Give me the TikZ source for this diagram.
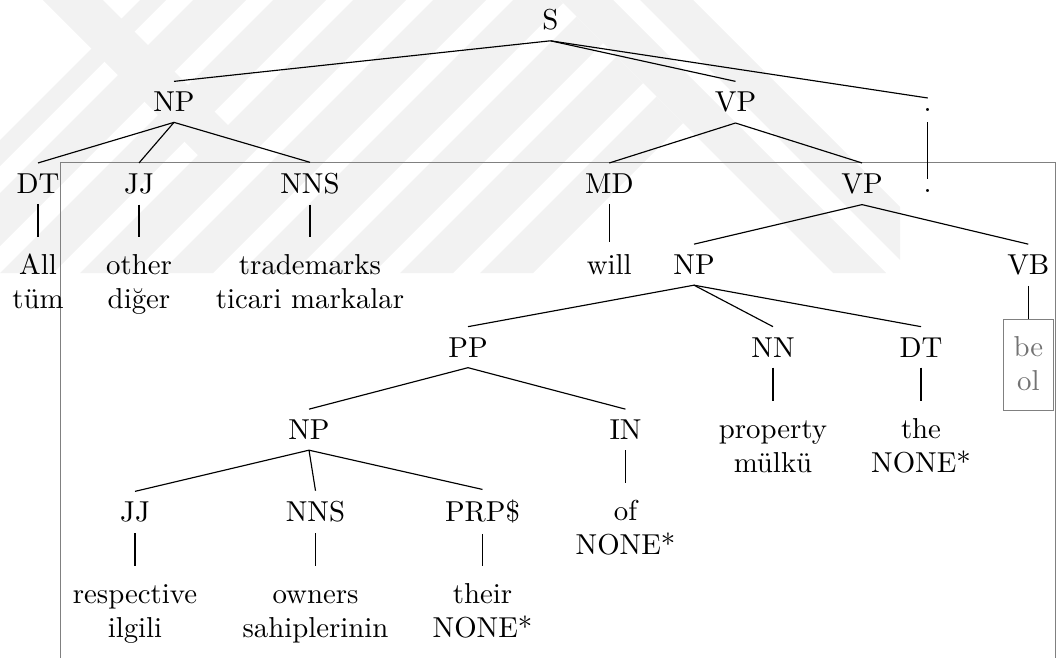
\documentclass[tikz,border=0pt]{standalone}
\usepackage{fontspec}
\newcommand{\twoline}[2]{\begin{tabular}[t]{@{}c@{}}#1\\#2\end{tabular}}
\renewcommand{\arraystretch}{0.98}
\begin{document}
\begin{tikzpicture}[x=0.347pt,y=-0.347pt,
  cat/.style={inner sep=3.5pt, anchor=base},
  word/.style={inner sep=3.5pt, anchor=base, text height=9.3pt},
  edge/.style={line width=0.4pt, black},
  framebox/.style={draw=black!50, line width=0.35pt},
  wm/.style={fill=black!5, draw=none}]
\useasboundingbox (0,0) rectangle (1061,657);
\clip (0,0) rectangle (1061,657);

% faint striped emblem in the background
\begin{scope}
  \clip (0,140) -- (140,0) -- (560,0) -- (833,273) -- (0,273) -- cycle;
  \foreach \b in {-160,-80,0,80,160,240,320,400,480}
    \fill[wm] (\b,273) -- (\b+53,273) -- (\b+326,0) -- (\b+273,0) -- cycle;
\end{scope}
\fill[wm] (43,0) -- (103,0) -- (250,147) -- (220,177) -- cycle;
\begin{scope}
  \clip (560,0) -- (900,0) -- (900,273) -- (833,273) -- cycle;
  \foreach \t in {480,560,640}
    \fill[wm] (\t,0) -- (\t+53,0) -- (\t+326,273) -- (\t+273,273) -- cycle;
\end{scope}

% frame around the lower part of the tree
\draw[framebox] (60.3,162.5) rectangle (1055.7,700);

% level 0 and 1
\node[cat] (S)   at (550.5,29.5) {S};
\node[cat] (np1) at (174,111.7)  {NP};
\node[cat] (vp1) at (735.5,111.7){VP};
\node[cat] (pt1) at (927.7,111.7){.};
% level 2
\node[cat] (dt1)  at (38,193.3)    {DT};
\node[cat] (jj1)  at (139,193.3)   {JJ};
\node[cat] (nns1) at (310,193.3)   {NNS};
\node[cat] (md)   at (609.3,193.3) {MD};
\node[cat] (vp2)  at (862,193.3)   {VP};
\node[cat] (pt2)  at (927.7,192.5) {.};
% level 3
\node[word] (wall)   at (38,274.5)  {\twoline{All}{tüm}};
\node[word] (wother) at (139,274.5) {\twoline{other}{diğer}};
\node[word] (wtrade) at (310,274.5) {\twoline{trademarks}{ticari markalar}};
\node[cat, text height=7.5pt] (wwill) at (609.3,274.5) {will};
\node[cat] (np2) at (694,274.5)    {NP};
\node[cat] (vb)  at (1028.3,274.5) {VB};
% level 4
\node[cat] (pp)  at (468,357)   {PP};
\node[cat] (nn)  at (773,357)   {NN};
\node[cat] (dt2) at (921,357)   {DT};
\node[word, draw=black!50, text=black!55, line width=0.35pt] (wbe) at (1028.3,356.7) {\twoline{be}{ol}};
% level 5
\node[cat] (np3) at (309,439.5)   {NP};
\node[cat] (in)  at (625.5,439.5) {IN};
\node[word] (wprop) at (773,438.5) {\twoline{property}{mülkü}};
\node[word] (wthe)  at (921,438.5) {\twoline{the}{NONE*}};
% level 6
\node[cat] (jj2)  at (135,521.7)   {JJ};
\node[cat] (nns2) at (315.5,521.7) {NNS};
\node[cat] (prp)  at (482.5,521.7) {PRP\$};
\node[word] (wof) at (625.5,520.5) {\twoline{of}{NONE*}};
% level 7
\node[word] (wresp)  at (135,603.3)   {\twoline{respective}{ilgili}};
\node[word] (wown)   at (315.5,603.3) {\twoline{owners}{sahiplerinin}};
\node[word] (wtheir) at (482.5,603.3) {\twoline{their}{NONE*}};

% branches
\draw[edge] (S.south) -- (np1.north);
\draw[edge] (S.south) -- (vp1.north);
\draw[edge] (S.south) -- (pt1.north);
\draw[edge] (np1.south) -- (dt1.north);
\draw[edge] (np1.south) -- (jj1.north);
\draw[edge] (np1.south) -- (nns1.north);
\draw[edge] (vp1.south) -- (md.north);
\draw[edge] (vp1.south) -- (vp2.north);
\draw[edge] (pt1.south) -- (pt2.north);
\draw[edge] (dt1.south) -- (wall.north);
\draw[edge] (jj1.south) -- (wother.north);
\draw[edge] (nns1.south) -- (wtrade.north);
\draw[edge] (md.south) -- (wwill.north);
\draw[edge] (vp2.south) -- (np2.north);
\draw[edge] (vp2.south) -- (vb.north);
\draw[edge] (np2.south) -- (pp.north);
\draw[edge] (np2.south) -- (nn.north);
\draw[edge] (np2.south) -- (dt2.north);
\draw[edge] (vb.south) -- (wbe.north);
\draw[edge] (pp.south) -- (np3.north);
\draw[edge] (pp.south) -- (in.north);
\draw[edge] (nn.south) -- (wprop.north);
\draw[edge] (dt2.south) -- (wthe.north);
\draw[edge] (np3.south) -- (jj2.north);
\draw[edge] (np3.south) -- (nns2.north);
\draw[edge] (np3.south) -- (prp.north);
\draw[edge] (in.south) -- (wof.north);
\draw[edge] (jj2.south) -- (wresp.north);
\draw[edge] (nns2.south) -- (wown.north);
\draw[edge] (prp.south) -- (wtheir.north);
\end{tikzpicture}
\end{document}
